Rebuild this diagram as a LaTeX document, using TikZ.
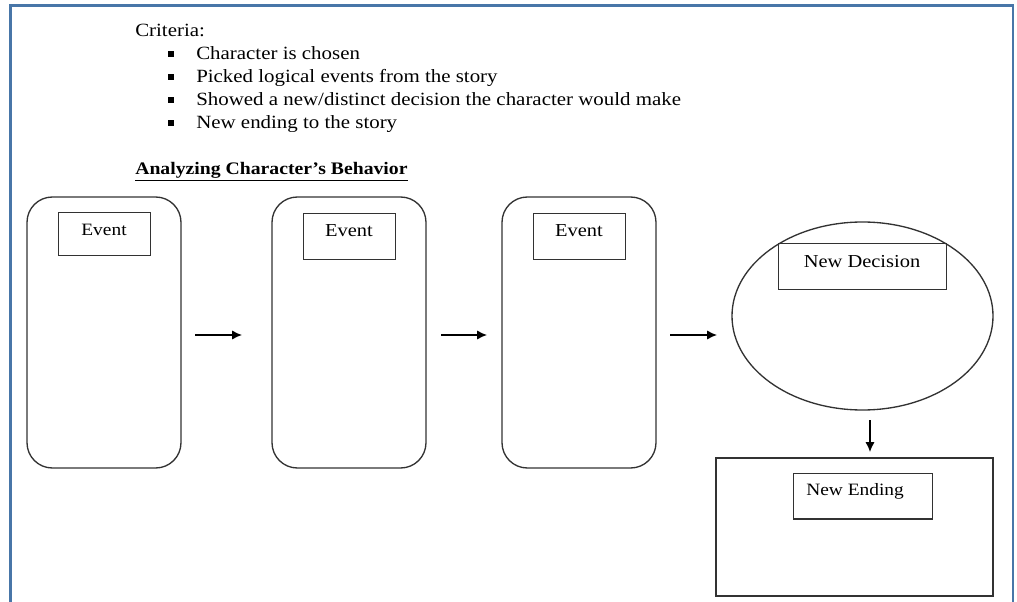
\documentclass[tikz,border=0pt]{standalone}
\usepackage{fontspec}
\setmainfont[FakeStretch=1.12]{Liberation Serif}
\usetikzlibrary{arrows.meta}
\definecolor{frameblue}{RGB}{72,118,168}
\definecolor{linegray}{RGB}{50,50,50}
\tikzset{
  bigbox/.style={draw=linegray, line width=1pt, rounded corners=19pt},
  labbox/.style={draw=linegray, line width=1pt},
  txt/.style={inner sep=0pt, anchor=base west, font=\fontsize{14}{16}\selectfont},
  boxtxt/.style={inner sep=0pt, font=\fontsize{13.7}{15}\selectfont},
  smalltxt/.style={inner sep=0pt, font=\fontsize{13}{15}\selectfont},
  flow/.style={-{Latex[length=7.5pt,width=7pt]}, line width=1pt, draw=black},
  bul/.style={fill=black, minimum size=4.2pt, inner sep=0pt}
}
\begin{document}
\begin{tikzpicture}[x=0.75pt,y=-0.75pt]
\useasboundingbox (0,0) rectangle (1017,602);
% frame
\draw[frameblue, line width=1.6pt] (10.5,602) -- (10.5,5.5) -- (1013,5.5) -- (1013,602);
% criteria
\node[txt] (crit) at (135,36.5) {Criteria:};
\node[bul] (b1) at (171,54) {};
\node[bul] (b2) at (171,77) {};
\node[bul] (b3) at (171,100) {};
\node[bul] (b4) at (171,123) {};
\node[txt] (c1) at (196,59.5) {Character is chosen};
\node[txt] (c2) at (196,83) {Picked logical events from the story};
\node[txt] (c3) at (196,106) {Showed a new/distinct decision the character would make};
\node[txt] (c4) at (196,129) {New ending to the story};
\node[txt, font=\fontsize{13.2}{15}\selectfont\bfseries] (head) at (135,175) {\underline{Analyzing Character's Behavior}};
% event boxes
\draw[bigbox] (27,197) rectangle (181,468);
\draw[bigbox] (272,197) rectangle (426,468);
\draw[bigbox] (502,197) rectangle (656,468);
\node[labbox, anchor=north west, minimum width=69pt, minimum height=32pt] (e1) at (58,212) {};
\node[labbox, anchor=north west, minimum width=69pt, minimum height=34.5pt] (e2) at (303,213) {};
\node[labbox, anchor=north west, minimum width=69pt, minimum height=34.5pt] (e3) at (533,213) {};
\node[smalltxt] (t1) at (104,230) {Event};
\node[boxtxt] (t2) at (349,231) {Event};
\node[boxtxt] (t3) at (579,231) {Event};
% arrows
\coordinate (a1s) at (195,335); \coordinate (a1e) at (242,335);
\coordinate (a2s) at (441,335); \coordinate (a2e) at (487,335);
\coordinate (a3s) at (670,335); \coordinate (a3e) at (717,335);
\draw[flow] (a1s) -- (a1e);
\draw[flow] (a2s) -- (a2e);
\draw[flow] (a3s) -- (a3e);
% ellipse
\draw[draw=linegray, line width=1pt] (862.5,316) ellipse [x radius=130.5, y radius=94];
\node[labbox, anchor=north west, minimum width=126pt, minimum height=34.5pt] (nd) at (778,243) {};
\node[boxtxt] (tnd) at (862,262) {New Decision};
% down arrow
\coordinate (ds) at (870,420); \coordinate (de) at (870,452);
\draw[flow] (ds) -- (de);
% ending
\draw[labbox] (716,458) rectangle (993,596);
\node[labbox, anchor=north west, minimum width=104pt, minimum height=34pt] (ne) at (793,473) {};
\node[smalltxt, anchor=west] (tne) at (806,491) {New Ending};
\end{tikzpicture}
\end{document}
